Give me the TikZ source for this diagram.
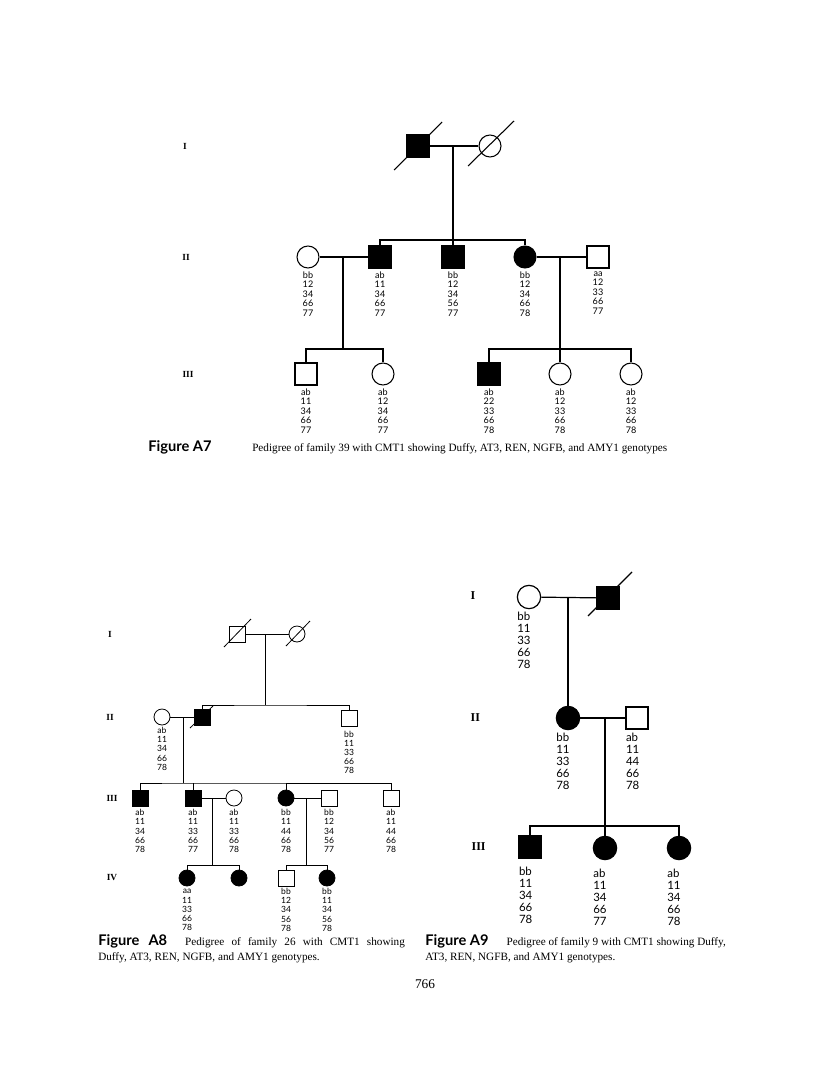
\documentclass[tikz,border=0pt]{standalone}
\usepackage{fontspec}
\setmainfont{Liberation Serif}
\newfontfamily\genofont{Lato}
\usetikzlibrary{positioning}

\begin{document}
\begin{tikzpicture}[x=0.75pt, y=-0.75pt,
    sq/.style={draw, rectangle, minimum size=#1, inner sep=0pt},
    ci/.style={draw, circle, minimum size=#1, inner sep=0pt},
    aff/.style={fill=black},
    geno/.style={align=center, inner sep=0pt, font=\genofont\fontsize{6.8}{7.1}\selectfont,
        execute at begin node={\vphantom{bh}}},
    genoL/.style={align=left, inner sep=0pt, anchor=north west, font=\genofont\fontsize{8.6}{9}\selectfont,
        execute at begin node={\vphantom{bh}}},
    gen/.style={font=\bfseries\fontsize{7}{8}\selectfont, inner sep=0pt},
    figlab/.style={font=\genofont\bfseries\fontsize{11}{12}\selectfont, inner sep=0pt, anchor=base west},
    capt/.style={font=\fontsize{8.4}{11.25}\selectfont, inner sep=0pt},
]
\useasboundingbox (0,0) rectangle (816,1081);

%% Figure A7
\begin{scope}[line width=0.8pt]
% generations
\node[gen] (a7g1) at (185,146) {I};
\node[gen] (a7g2) at (186,257) {II};
\node[gen] (a7g3) at (188,374) {III};

% generation I
\node[sq=16.5pt, aff] (a7i1) at (418,146) {};
\node[ci=16.5pt] (a7i2) at (490,146) {};
\draw ([shift={(-24,24)}]a7i1.center) -- ([shift={(24,-24)}]a7i1.center);
\draw ([shift={(-22,20)}]a7i2.center) -- ([shift={(24,-25)}]a7i2.center);
\draw (a7i1) -- (a7i2);
\coordinate (a7m1) at (453,146);
\coordinate (a7s1) at (453,240);

% generation II
\node[ci=16.5pt] (a7ii1) at (308,257) {};
\node[sq=16.5pt, aff] (a7ii2) at (380,257) {};
\node[sq=16.5pt, aff] (a7ii3) at (453,257) {};
\node[ci=16.5pt, aff] (a7ii4) at (525,257) {};
\node[sq=16.5pt] (a7ii5) at (598,257) {};
\draw (a7m1) -- (a7ii3);
\draw (a7ii2) |- (a7s1) -| (a7ii4);
\draw (a7ii1) -- (a7ii2);
\draw (a7ii4) -- (a7ii5);
\coordinate (a7m2) at (343,257);
\coordinate (a7s2) at (343,349);
\coordinate (a7m3) at (560,257);
\coordinate (a7s3) at (560,349);

\node[geno, below=2pt of a7ii1] {bb\\12\\34\\66\\77};
\node[geno, below=2pt of a7ii2] {ab\\11\\34\\66\\77};
\node[geno, below=2pt of a7ii3] {bb\\12\\34\\56\\77};
\node[geno, below=2pt of a7ii4] {bb\\12\\34\\66\\78};
\node[geno, below=2pt of a7ii5] {aa\\12\\33\\66\\77};

% generation III
\node[sq=16.5pt] (a7iii1) at (306,374) {};
\node[ci=16.5pt] (a7iii2) at (383,374) {};
\node[sq=16.5pt, aff] (a7iii3) at (489,374) {};
\node[ci=16.5pt] (a7iii4) at (560,374) {};
\node[ci=16.5pt] (a7iii5) at (631,374) {};
\draw (a7m2) -- (a7s2);
\draw (a7iii1) |- (a7s2) -| (a7iii2);
\draw (a7m3) -- (a7iii4);
\draw (a7iii3) |- (a7s3) -| (a7iii5);

\node[geno, below=2pt of a7iii1] {ab\\11\\34\\66\\77};
\node[geno, below=2pt of a7iii2] {ab\\12\\34\\66\\77};
\node[geno, below=2pt of a7iii3] {ab\\22\\33\\66\\78};
\node[geno, below=2pt of a7iii4] {ab\\12\\33\\66\\78};
\node[geno, below=2pt of a7iii5] {ab\\12\\33\\66\\78};
\end{scope}

\node[figlab] (fig7) at (148,451) {Figure A7};
\node[capt, anchor=base west] (cap7) at (252,451) {Pedigree of family 39 with CMT1 showing Duffy, AT3, REN, NGFB, and AMY1 genotypes};

%% Figure A8
\begin{scope}[line width=0.6pt, geno/.append style={font=\genofont\fontsize{6.4}{6.9}\selectfont}]
\node[gen] (a8g1) at (110,634) {I};
\node[gen] (a8g2) at (110,717) {II};
\node[gen] (a8g3) at (112,798) {III};
\node[gen] (a8g4) at (112,878) {IV};

% generation I
\node[sq=12pt] (a8i1) at (237,634) {};
\node[ci=12pt] (a8i2) at (297,634) {};
\draw ([shift={(-13,13)}]a8i1.center) -- ([shift={(14,-15)}]a8i1.center);
\draw ([shift={(-11,12)}]a8i2.center) -- ([shift={(13,-13)}]a8i2.center);
\draw (a8i1) -- (a8i2);
\coordinate (a8m1) at (265,634);
\coordinate (a8s1) at (265,705);

% generation II
\node[ci=12pt] (a8ii1) at (162,717) {};
\node[sq=12pt, aff] (a8ii2) at (202,717) {};
\node[sq=12pt] (a8ii3) at (349,718) {};
\draw ([shift={(-12,11)}]a8ii2.center) -- ([shift={(11,-11)}]a8ii2.center);
\draw (a8m1) -- (a8s1);
\draw (a8ii2) |- (a8s1) -| (a8ii3);
\draw (a8ii1) -- (a8ii2);
\coordinate (a8m2) at (183,717);
\coordinate (a8s2) at (183,783);

\node[geno, below=1pt of a8ii1] {ab\\11\\34\\66\\78};
\node[geno, below=3pt of a8ii3] {bb\\11\\33\\66\\78};

% generation III
\node[sq=12pt, aff] (a8iii1) at (140,798) {};
\node[sq=12pt, aff] (a8iii2) at (193,798) {};
\node[ci=12pt] (a8iii3) at (234,798) {};
\node[ci=12pt, aff] (a8iii4) at (286,798) {};
\node[sq=12pt] (a8iii5) at (329,798) {};
\node[sq=12pt] (a8iii6) at (391,798) {};
\draw (a8m2) -- (a8s2);
\draw (a8iii1) |- (a8s2) -| (a8iii6);
\draw (a8iii2) -- (a8iii2 |- a8s2);
\draw (a8iii4) -- (a8iii4 |- a8s2);
\draw (a8iii2) -- (a8iii3);
\draw (a8iii4) -- (a8iii5);
\coordinate (a8m3) at (212,798);
\coordinate (a8s3) at (212,865);
\coordinate (a8m4) at (306,798);
\coordinate (a8s4) at (306,865);

\node[geno, below=2pt of a8iii1] {ab\\11\\34\\66\\78};
\node[geno, below=2pt of a8iii2] {ab\\11\\33\\66\\77};
\node[geno, below=2pt of a8iii3] {ab\\11\\33\\66\\78};
\node[geno, below=2pt of a8iii4] {bb\\11\\44\\66\\78};
\node[geno, below=2pt of a8iii5] {bb\\12\\34\\56\\77};
\node[geno, below=2pt of a8iii6] {ab\\11\\44\\66\\78};

% generation IV
\node[ci=12pt, aff] (a8iv1) at (187,878) {};
\node[ci=12pt, aff] (a8iv2) at (239,878) {};
\node[sq=12pt] (a8iv3) at (286,878) {};
\node[ci=12pt, aff] (a8iv4) at (327,878) {};
\draw (a8m3) -- (a8s3);
\draw (a8iv1) |- (a8s3) -| (a8iv2);
\draw (a8m4) -- (a8s4);
\draw (a8iv3) |- (a8s4) -| (a8iv4);

\node[geno, below=2pt of a8iv1] {aa\\11\\33\\66\\78};
\node[geno, below=1pt of a8iv3] {bb\\12\\34\\56\\78};
\node[geno, below=1pt of a8iv4] {bb\\11\\34\\56\\78};
\end{scope}

\node[capt, anchor=north west, text width=230pt, align=justify] (cap8) at (98,934)
    {\hyphenpenalty=10000 {\genofont\bfseries\fontsize{11}{12}\selectfont Figure A8}\hspace{1.6em}Pedigree of family 26 with CMT1 showing\linebreak Duffy, AT3, REN, NGFB, and AMY1 genotypes.};

%% Figure A9
\begin{scope}[line width=0.9pt, gen/.append style={font=\bfseries\fontsize{9}{10}\selectfont, anchor=west}]
\node[gen] (a9g1) at (470,596) {I};
\node[gen] (a9g2) at (470,718) {II};
\node[gen] (a9g3) at (471,847) {III};

% generation I
\node[ci=17.5pt] (a9i1) at (529,597) {};
\node[sq=16.5pt, aff] (a9i2) at (608,598) {};
\draw ([shift={(-20,18)}]a9i2.center) -- ([shift={(24,-26)}]a9i2.center);
\draw (a9i1) -- (a9i2);
\coordinate (a9m1) at (568,597);
\node[genoL] at ([yshift=-2pt]a9i1.west |- a9i1.south) {bb\\11\\33\\66\\78};

% generation II
\node[ci=17.5pt, aff] (a9ii1) at (568,718) {};
\node[sq=16.5pt] (a9ii2) at (637,718) {};
\draw (a9m1) -- (a9ii1);
\draw (a9ii1) -- (a9ii2);
\coordinate (a9m2) at (605,718);
\coordinate (a9s2) at (605,826);
\node[genoL] at ([yshift=-2pt]a9ii1.west |- a9ii1.south) {bb\\11\\33\\66\\78};
\node[genoL] at ([yshift=-2pt]a9ii2.south west) {ab\\11\\44\\66\\78};

% generation III
\node[sq=16.5pt, aff] (a9iii1) at (530,847) {};
\node[ci=17.5pt, aff] (a9iii2) at (605,848) {};
\node[ci=17.5pt, aff] (a9iii3) at (679,848) {};
\draw (a9m2) -- (a9iii2);
\draw (a9iii1) |- (a9s2) -| (a9iii3);
\node[genoL] at ([yshift=-6pt]a9iii1.south west) {bb\\11\\34\\66\\78};
\node[genoL] at ([yshift=-6pt]a9iii2.west |- a9iii2.south) {ab\\11\\34\\66\\77};
\node[genoL] at ([yshift=-6pt]a9iii3.west |- a9iii3.south) {ab\\11\\34\\66\\78};
\end{scope}

\node[capt, anchor=north west, align=left] (cap9) at (425,934)
    {{\genofont\bfseries\fontsize{11}{12}\selectfont Figure A9}\hspace{1.6em}Pedigree of family 9 with CMT1 showing Duffy,\\AT3, REN, NGFB, and AMY1 genotypes.};

% page number
\node[font=\fontsize{10}{12}\selectfont] (page) at (425,984) {766};

\end{tikzpicture}
\end{document}
